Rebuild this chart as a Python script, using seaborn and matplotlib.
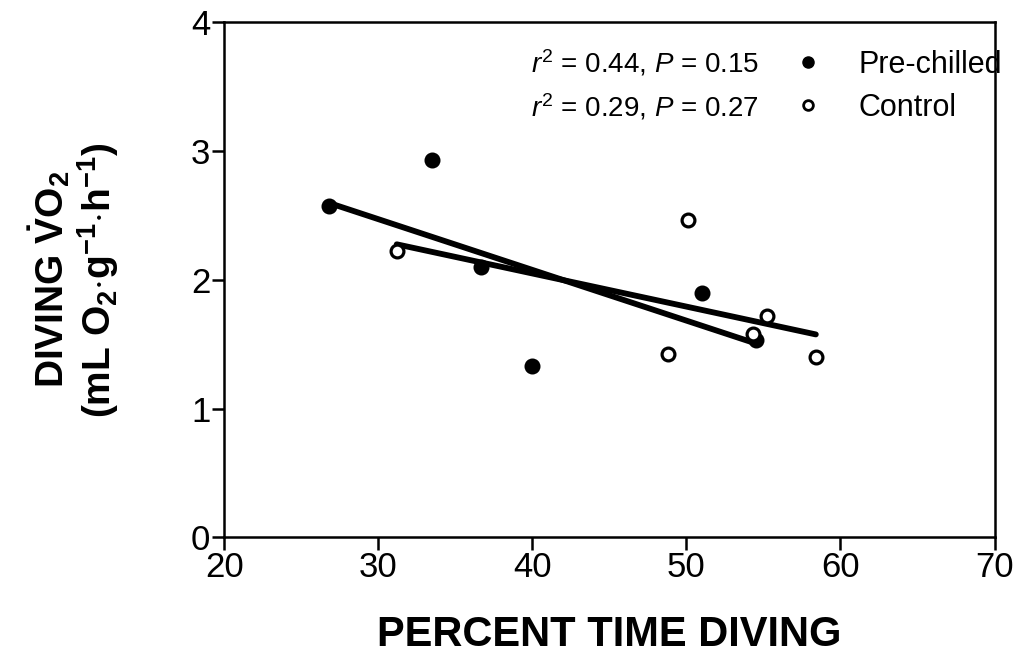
import matplotlib
matplotlib.use("Agg")
import matplotlib.pyplot as plt
from matplotlib.lines import Line2D
import seaborn as sns
import pandas as pd

# data
pre_x = [26.8, 33.5, 36.7, 40.0, 51.0, 54.5]
pre_y = [2.57, 2.93, 2.10, 1.33, 1.90, 1.53]
ctl_x = [31.2, 48.8, 50.1, 54.3, 55.2, 58.4]
ctl_y = [2.22, 1.42, 2.46, 1.58, 1.72, 1.40]
groups = ["Pre-chilled", "Control"]
stats = [r"$r^2$ = 0.44, $P$ = 0.15", r"$r^2$ = 0.29, $P$ = 0.27"]
x_ticks = [20, 30, 40, 50, 60, 70]
y_ticks = [0, 1, 2, 3, 4]

df = pd.DataFrame({
    "pct": pre_x + ctl_x,
    "vo2": pre_y + ctl_y,
    "group": [groups[0]] * len(pre_x) + [groups[1]] * len(ctl_x),
})

sns.set_style("ticks")
plt.rcParams["font.family"] = ["Liberation Sans", "DejaVu Sans"]
plt.rcParams["mathtext.fontset"] = "custom"
plt.rcParams["mathtext.rm"] = "Liberation Sans"
plt.rcParams["mathtext.it"] = "Liberation Sans:italic"
plt.rcParams["mathtext.bf"] = "Liberation Sans:bold"
plt.rcParams["text.color"] = "black"
plt.rcParams["axes.labelcolor"] = "black"

fig = plt.figure(figsize=(10.19, 6.70), dpi=100)
ax = fig.add_axes([0.22, 0.198, 0.756, 0.769])

styles = {
    "Pre-chilled": dict(facecolor="black", edgecolor="black"),
    "Control": dict(facecolor="white", edgecolor="black"),
}
for g in groups:
    sub = df[df["group"] == g]
    sns.regplot(data=sub, x="pct", y="vo2", ax=ax, ci=None, truncate=True,
                scatter_kws=dict(s=85, linewidths=2.3, zorder=3, alpha=1,
                                 **styles[g]),
                line_kws=dict(color="black", linewidth=4.2, zorder=2,
                              solid_capstyle="round"))

ax.set_xlim(20, 70)
ax.set_ylim(0, 4)
ax.set_xticks(x_ticks)
ax.set_yticks(y_ticks)
ax.tick_params(axis="both", labelsize=25, width=1.8, length=9, direction="out",
               color="black", labelcolor="black", pad=1)
for sp in ax.spines.values():
    sp.set_linewidth(1.8)
    sp.set_color("black")
    sp.set_visible(True)

ax.set_xlabel("PERCENT TIME DIVING", fontsize=30, fontweight="bold", labelpad=22)
ax.set_ylabel("DIVING $\\mathbf{\\dot{V}O_2}$\n"
              "$\\mathbf{(mL\\ O_2{\\cdot}g^{-1}{\\cdot}h^{-1})}$",
              fontsize=28, fontweight="bold", labelpad=50, linespacing=1.1)

handles = [Line2D([], [], linestyle="none", marker=""),
           Line2D([], [], linestyle="none", marker=""),
           Line2D([], [], linestyle="none", marker="o", markersize=8,
                  markerfacecolor="black", markeredgecolor="black"),
           Line2D([], [], linestyle="none", marker="o", markersize=7,
                  markerfacecolor="white", markeredgecolor="black",
                  markeredgewidth=2)]
labels = stats + groups
leg = ax.legend(handles, labels, ncol=2, frameon=False, fontsize=22,
                loc="upper right", bbox_to_anchor=(1.033, 0.985),
                handlelength=1.0, handletextpad=1.15, columnspacing=1.1,
                labelspacing=0.42, borderaxespad=0.2)
for t in leg.get_texts()[:2]:
    t.set_fontsize(20)

fig.savefig("out.png", dpi=100)
